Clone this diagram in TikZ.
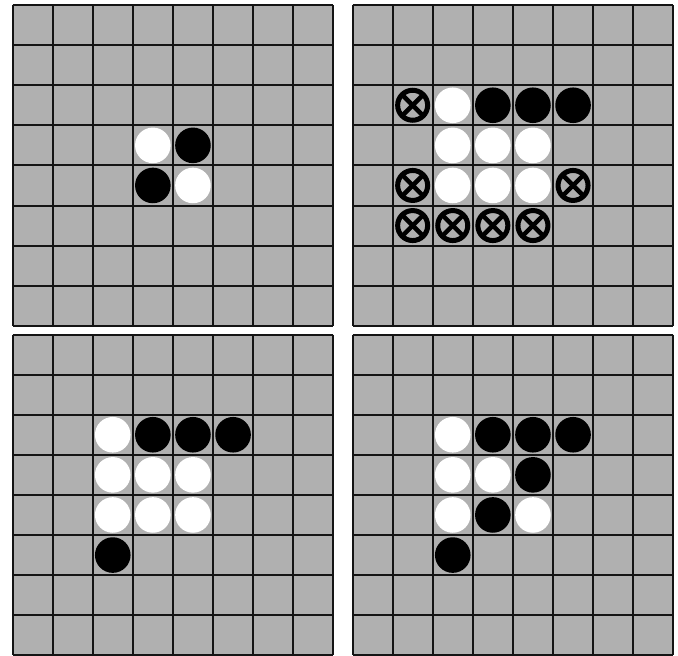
\documentclass[tikz,border=0pt]{standalone}
\definecolor{boardgray}{HTML}{B0B0B0}
\definecolor{gridline}{HTML}{141414}
\tikzset{
  gridstyle/.style={draw=gridline, line width=2pt},
  whitedisc/.style={fill=white},
  blackdisc/.style={fill=black},
  xring/.style={draw=black, line width=5pt},
  xcross/.style={draw=black, line width=4.5pt},
}
\newcommand{\othboard}[2]{%
  \fill[boardgray] (#1,#2) rectangle ++(320.8,320.8);
  \foreach \i in {0,...,8} {
    \draw[gridstyle] ({#1+\i*40.1},#2) -- ++(0,320.8);
    \draw[gridstyle] (#1,{#2+\i*40.1}) -- ++(320.8,0);
  }
}
\newcommand{\wdisc}[4]{\fill[whitedisc] ({#1+(#3+0.5)*40.1},{#2+(#4+0.5)*40.1}) circle (17.8);}
\newcommand{\bdisc}[4]{\fill[blackdisc] ({#1+(#3+0.5)*40.1},{#2+(#4+0.5)*40.1}) circle (17.8);}
\newcommand{\xmark}[4]{%
  \begin{scope}[shift={({#1+(#3+0.5)*40.1},{#2+(#4+0.5)*40.1})}]
    \draw[xring] (0,0) circle (15);
    \draw[xcross] (-10,-10) -- (10,10);
    \draw[xcross] (-10,10) -- (10,-10);
  \end{scope}}
\begin{document}
\begin{tikzpicture}[x=1pt,y=-1pt]
\useasboundingbox (0,0) rectangle (678,656);
\fill[white] (0,0) rectangle (678,656);
% top-left
\othboard{12.5}{5}
\wdisc{12.5}{5}{3}{3} \bdisc{12.5}{5}{4}{3}
\bdisc{12.5}{5}{3}{4} \wdisc{12.5}{5}{4}{4}
% top-right
\othboard{352.5}{5}
\xmark{352.5}{5}{1}{2} \wdisc{352.5}{5}{2}{2} \bdisc{352.5}{5}{3}{2} \bdisc{352.5}{5}{4}{2} \bdisc{352.5}{5}{5}{2}
\wdisc{352.5}{5}{2}{3} \wdisc{352.5}{5}{3}{3} \wdisc{352.5}{5}{4}{3}
\xmark{352.5}{5}{1}{4} \wdisc{352.5}{5}{2}{4} \wdisc{352.5}{5}{3}{4} \wdisc{352.5}{5}{4}{4} \xmark{352.5}{5}{5}{4}
\xmark{352.5}{5}{1}{5} \xmark{352.5}{5}{2}{5} \xmark{352.5}{5}{3}{5} \xmark{352.5}{5}{4}{5}
% bottom-left
\othboard{12.5}{334.5}
\wdisc{12.5}{334.5}{2}{2} \bdisc{12.5}{334.5}{3}{2} \bdisc{12.5}{334.5}{4}{2} \bdisc{12.5}{334.5}{5}{2}
\wdisc{12.5}{334.5}{2}{3} \wdisc{12.5}{334.5}{3}{3} \wdisc{12.5}{334.5}{4}{3}
\wdisc{12.5}{334.5}{2}{4} \wdisc{12.5}{334.5}{3}{4} \wdisc{12.5}{334.5}{4}{4}
\bdisc{12.5}{334.5}{2}{5}
% bottom-right
\othboard{352.5}{334.5}
\wdisc{352.5}{334.5}{2}{2} \bdisc{352.5}{334.5}{3}{2} \bdisc{352.5}{334.5}{4}{2} \bdisc{352.5}{334.5}{5}{2}
\wdisc{352.5}{334.5}{2}{3} \wdisc{352.5}{334.5}{3}{3} \bdisc{352.5}{334.5}{4}{3}
\wdisc{352.5}{334.5}{2}{4} \bdisc{352.5}{334.5}{3}{4} \wdisc{352.5}{334.5}{4}{4}
\bdisc{352.5}{334.5}{2}{5}
\end{tikzpicture}
\end{document}
